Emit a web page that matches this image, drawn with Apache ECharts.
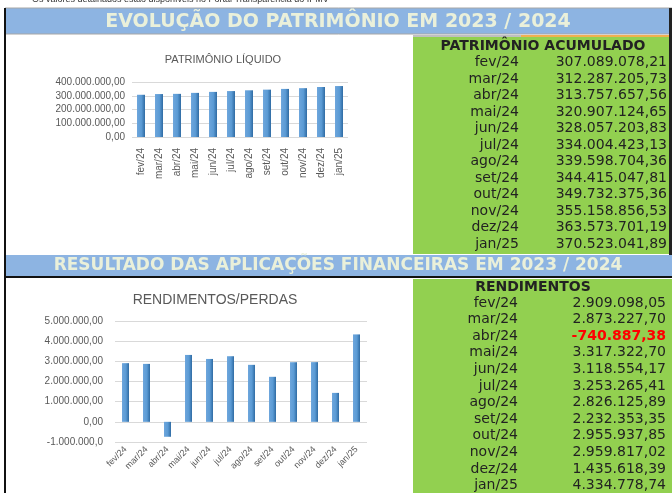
<!DOCTYPE html>
<html>
<head>
<meta charset="utf-8">
<script src="https://cdn.jsdelivr.net/npm/echarts@6/dist/echarts.min.js"></script>
<style>
html, body { margin: 0; padding: 0; background: #fff; }
#main { width: 672px; height: 493px; }
</style>
</head>
<body>
<div id="main"></div>
<script>
var months = ['fev/24', 'mar/24', 'abr/24', 'mai/24', 'jun/24', 'jul/24', 'ago/24', 'set/24', 'out/24', 'nov/24', 'dez/24', 'jan/25'];
var patrimonio = [307089078.21, 312287205.73, 313757657.56, 320907124.65, 328057203.83, 334004423.13,
    339598704.36, 344415047.81, 349732375.36, 355158856.53, 363573701.19, 370523041.89];
var rendimentos = [2909098.05, 2873227.70, -740887.38, 3317322.70, 3118554.17, 3253265.41,
    2826125.89, 2232353.35, 2955937.85, 2959817.02, 1435618.39, 4334778.74];
var ticksTop = ['0,00', '100.000.000,00', '200.000.000,00', '300.000.000,00', '400.000.000,00'];
var ticksBottom = ['-1.000.000,0', '0,00', '1.000.000,00', '2.000.000,00', '3.000.000,00', '4.000.000,00', '5.000.000,00'];

function brl(v) {
    var s = Math.abs(v).toFixed(2).split('.');
    var i = s[0].replace(/\B(?=(\d{3})+(?!\d))/g, '.');
    return (v < 0 ? '-' : '') + i + ',' + s[1];
}

var chart = echarts.init(document.getElementById('main'));

var barColor = new echarts.graphic.LinearGradient(0, 0, 1, 0, [
    { offset: 0, color: '#6EA6DC' },
    { offset: 0.55, color: '#5B9BD5' },
    { offset: 1, color: '#2F6BA3' }
]);
var gray = '#595959';
var ink = '#222';
var tableFont = '14px "DejaVu Sans"';

var graphics = [
    // linha de texto cortada no topo
    { type: 'text', x: 32, y: 0, style: { text: 'Os valores detalhados estão disponíveis no Portal Transparência do IPMV',
        font: '9px "Liberation Sans"', fill: '#333', textVerticalAlign: 'middle' } },
    // barras de título
    { type: 'rect', shape: { x: 5, y: 8, width: 667, height: 26 }, style: { fill: '#8DB4E2', stroke: '#A6A6A6', lineWidth: 1 } },
    { type: 'text', x: 338, y: 22, style: { text: 'EVOLUÇÃO DO PATRIMÔNIO EM 2023 / 2024', font: 'bold 19px "DejaVu Sans"',
        fill: '#EAF0DA', textAlign: 'center', textVerticalAlign: 'middle' } },
    { type: 'rect', shape: { x: 5, y: 255, width: 667, height: 22 }, style: { fill: '#8DB4E2' } },
    { type: 'rect', shape: { x: 5, y: 276, width: 667, height: 2 }, style: { fill: '#111' } },
    { type: 'text', x: 338, y: 266, style: { text: 'RESULTADO DAS APLICAÇÕES FINANCEIRAS EM 2023 / 2024', font: 'bold 17px "DejaVu Sans"',
        fill: '#EAF0DA', textAlign: 'center', textVerticalAlign: 'middle' } },
    // bordas
    { type: 'rect', shape: { x: 4, y: 8, width: 2, height: 485 }, style: { fill: '#111' } },
    { type: 'rect', shape: { x: 669, y: 8, width: 3, height: 247 }, style: { fill: '#222' } },
    // tabelas verdes
    { type: 'rect', shape: { x: 413, y: 35, width: 256, height: 219 }, style: { fill: '#92D050' } },
    { type: 'rect', shape: { x: 413, y: 35, width: 108, height: 2 }, style: { fill: '#BFBFBF' } },
    { type: 'rect', shape: { x: 521, y: 35, width: 148, height: 2 }, style: { fill: '#F0B050' } },
    { type: 'rect', shape: { x: 413, y: 279, width: 259, height: 214 }, style: { fill: '#92D050' } },
    { type: 'text', x: 543, y: 46, style: { text: 'PATRIMÔNIO ACUMULADO', font: 'bold 14px "DejaVu Sans"',
        fill: ink, textAlign: 'center', textVerticalAlign: 'middle' } },
    { type: 'text', x: 533, y: 287, style: { text: 'RENDIMENTOS', font: 'bold 14px "DejaVu Sans"',
        fill: ink, textAlign: 'center', textVerticalAlign: 'middle' } }
];

months.forEach(function (m, i) {
    var y1 = 62.5 + i * 16.5;
    var y2 = 303 + i * 16.6;
    graphics.push({ type: 'text', x: 519, y: y1, style: { text: m, font: tableFont, fill: ink, textAlign: 'right', textVerticalAlign: 'middle' } });
    graphics.push({ type: 'text', x: 667, y: y1, style: { text: brl(patrimonio[i]), font: tableFont, fill: ink, textAlign: 'right', textVerticalAlign: 'middle' } });
    graphics.push({ type: 'text', x: 518, y: y2, style: { text: m, font: tableFont, fill: ink, textAlign: 'right', textVerticalAlign: 'middle' } });
    var neg = rendimentos[i] < 0;
    graphics.push({ type: 'text', x: 666, y: y2, style: { text: brl(rendimentos[i]), font: (neg ? 'bold ' : '') + tableFont,
        fill: neg ? '#FF0000' : ink, textAlign: 'right', textVerticalAlign: 'middle' } });
});

var option = {
    animation: false,
    title: [
        { text: 'PATRIMÔNIO LÍQUIDO', left: 218, top: 49, textAlign: 'center',
          textStyle: { fontSize: 11, fontWeight: 'normal', color: gray, fontFamily: 'Liberation Sans' } },
        { text: 'RENDIMENTOS/PERDAS', left: 210, top: 288, textAlign: 'center',
          textStyle: { fontSize: 14, fontWeight: 'normal', color: gray, fontFamily: 'Liberation Sans' } }
    ],
    grid: [
        { left: 132, top: 82, width: 216, height: 55 },
        { left: 115, top: 321, width: 252, height: 121 }
    ],
    xAxis: [
        { type: 'category', gridIndex: 0, data: months, axisLine: { show: false }, axisTick: { show: false },
          axisLabel: { rotate: 90, margin: 11, fontSize: 10, color: gray, fontFamily: 'Liberation Sans' } },
        { type: 'category', gridIndex: 1, data: months, position: 'bottom', axisLine: { show: false }, axisTick: { show: false },
          axisLabel: { rotate: 45, margin: 6, fontSize: 9, color: gray, fontFamily: 'Liberation Sans' } }
    ],
    yAxis: [
        { type: 'value', gridIndex: 0, min: 0, max: 400000000, interval: 100000000,
          splitLine: { lineStyle: { color: '#D9D9D9' } },
          axisLabel: { margin: 7, fontSize: 10, color: gray, fontFamily: 'Liberation Sans',
              formatter: function (v, i) { return ticksTop[i]; } } },
        { type: 'value', gridIndex: 1, min: -1000000, max: 5000000, interval: 1000000,
          splitLine: { lineStyle: { color: '#D9D9D9' } },
          axisLabel: { margin: 12, fontSize: 10, color: gray, fontFamily: 'Liberation Sans',
              formatter: function (v, i) { return ticksBottom[i]; } } }
    ],
    series: [
        { type: 'bar', xAxisIndex: 0, yAxisIndex: 0, data: patrimonio, barWidth: 8, itemStyle: { color: barColor } },
        { type: 'bar', xAxisIndex: 1, yAxisIndex: 1, data: rendimentos, barWidth: 7, itemStyle: { color: barColor } }
    ],
    graphic: graphics
};
chart.setOption(option);
</script>
</body>
</html>
